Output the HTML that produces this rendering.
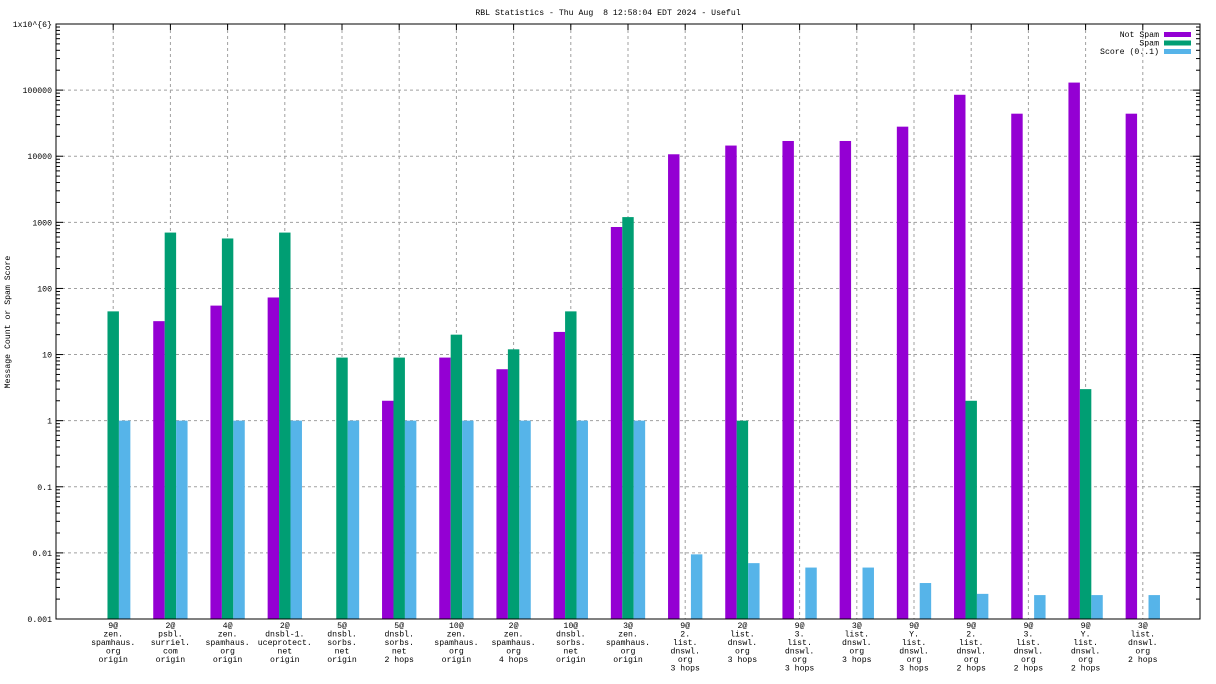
<!DOCTYPE html>
<html><head><meta charset="utf-8"><style>
body{margin:0;background:#fff}
svg{display:block;font-family:"Liberation Mono","DejaVu Sans Mono",monospace;font-size:8.2px}
</style></head><body>
<svg id="chart" width="1216" height="684" viewBox="0 0 1216 684">
<text x="608" y="15" text-anchor="middle" xml:space="preserve" style="white-space:pre">RBL Statistics - Thu Aug  8 12:58:04 EDT 2024 - Useful</text>
<text transform="translate(10,322) rotate(-90)" text-anchor="middle">Message Count or Spam Score</text>
<g id="grid"></g><g id="bars"></g><g id="axes"></g><g id="xlabels"></g>
<g>
<text x="1159" y="37" text-anchor="end">Not Spam</text>
<rect x="1164" y="32" width="27" height="5" fill="#9400d3"/>
<text x="1159" y="45.5" text-anchor="end">Spam</text>
<rect x="1164" y="40.5" width="27" height="5" fill="#009e73"/>
<text x="1159" y="54" text-anchor="end">Score (0..1)</text>
<rect x="1164" y="49" width="27" height="5" fill="#56b4e9"/>
</g>
</svg>
<script>
const categories=[
"9@|zen.|spamhaus.|org|origin","2@|psbl.|surriel.|com|origin","4@|zen.|spamhaus.|org|origin","2@|dnsbl-1.|uceprotect.|net|origin","5@|dnsbl.|sorbs.|net|origin","5@|dnsbl.|sorbs.|net|2 hops","10@|zen.|spamhaus.|org|origin","2@|zen.|spamhaus.|org|4 hops","10@|dnsbl.|sorbs.|net|origin","3@|zen.|spamhaus.|org|origin","9@|2.|list.|dnswl.|org|3 hops","2@|list.|dnswl.|org|3 hops","9@|3.|list.|dnswl.|org|3 hops","3@|list.|dnswl.|org|3 hops","9@|Y.|list.|dnswl.|org|3 hops","9@|2.|list.|dnswl.|org|2 hops","9@|3.|list.|dnswl.|org|2 hops","9@|Y.|list.|dnswl.|org|2 hops","3@|list.|dnswl.|org|2 hops"];
const notSpam=[null,32,55,73,null,2,9,6,22,850,10700,14500,17000,17000,28000,85000,44000,130000,44000];
const spam=[45,700,570,700,9,9,20,12,45,1200,null,1,null,null,null,2,null,3,null];
const score=[1,1,1,1,1,1,1,1,1,1,0.0095,0.007,0.006,0.006,0.0035,0.0024,0.0023,0.0023,0.0023];
const yTicks=[0.001,0.01,0.1,1,10,100,1000,10000,100000,1000000];
const yTickLabels=["0.001","0.01","0.1","1","10","100","1000","10000","100000","1x10^{6}"];

const L=56,R=1200,T=24,B=619,NS="http://www.w3.org/2000/svg";
const unit=(R-L)/20;
const xs=i=>L+(i+1)*unit;
const ys=v=>B-(Math.log10(v)+3)/9*(B-T);
function mk(tag,attrs,parent){const e=document.createElementNS(NS,tag);for(const k in attrs)e.setAttribute(k,attrs[k]);document.getElementById(parent).appendChild(e);return e;}
yTicks.forEach((v,i)=>{if(i>0&&i<yTicks.length-1){const g=mk('line',{x1:L,x2:R,y1:ys(v),y2:ys(v),stroke:'#a0a0a0','stroke-dasharray':'3,3'},'grid');

}});
categories.forEach((c,i)=>{const g=mk('line',{x1:xs(i),x2:xs(i),y1:T,y2:B,stroke:'#a0a0a0','stroke-dasharray':'3,3'},'grid');

});
const bw=unit*0.2;
const series=[[notSpam,'#9400d3','not-spam',-1],[spam,'#009e73','spam',0],[score,'#56b4e9','score',1]];
series.forEach(([arr,col,nm,off])=>{arr.forEach((v,i)=>{if(v==null)return;const x=xs(i)+off*bw-bw/2;const y=ys(v);
const r=mk('rect',{x:x,y:y,width:bw,height:B-y,fill:col},'bars');

});});
const fr=mk('rect',{x:L,y:T,width:R-L,height:B-T,fill:'none',stroke:'#000','stroke-width':1},'axes');


yTicks.forEach((v,i)=>{const y=ys(v);
mk('line',{x1:L,x2:L+7,y1:y,y2:y,stroke:'#000'},'axes');mk('line',{x1:R-7,x2:R,y1:y,y2:y,stroke:'#000'},'axes');
const t=mk('text',{x:L-4,y:y+3,'text-anchor':'end'},'axes');t.textContent=yTickLabels[i];


if(i<yTicks.length-1){for(let m=2;m<10;m++){const ym=ys(v*m);mk('line',{x1:L,x2:L+4,y1:ym,y2:ym,stroke:'#000'},'axes');mk('line',{x1:R-4,x2:R,y1:ym,y2:ym,stroke:'#000'},'axes');}}});
categories.forEach((c,i)=>{const x=xs(i);mk('line',{x1:x,x2:x,y1:T,y2:T+6,stroke:'#000'},'axes');
const t=mk('text',{x:x,y:628,'text-anchor':'middle'},'xlabels');


c.split('|').forEach((s,k)=>{const sp=document.createElementNS(NS,'tspan');sp.setAttribute('x',x);sp.setAttribute('y',628+k*8.5);sp.textContent=s;t.appendChild(sp);});});
</script>
</body></html>
